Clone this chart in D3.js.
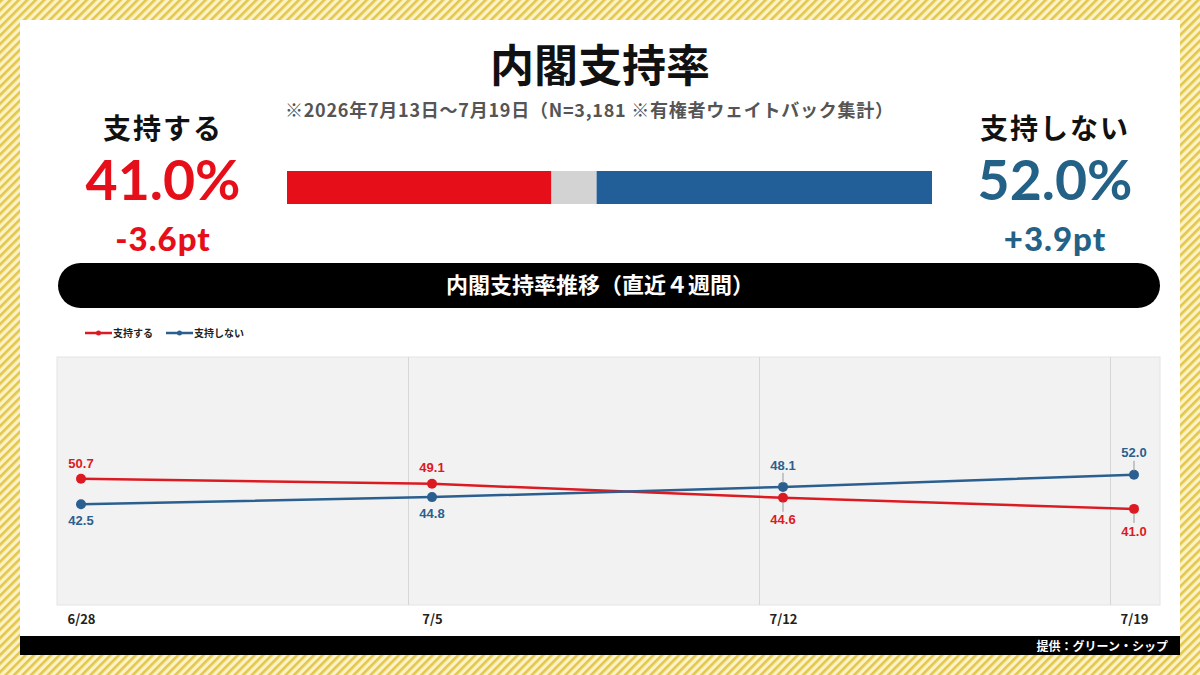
<!DOCTYPE html>
<html>
<head>
<meta charset="utf-8">
<script src="https://cdn.jsdelivr.net/npm/d3@7"></script>
<style>
  body { margin: 0; padding: 0; background: #fff; }
  svg { display: block; }
  .jp { font-family: "Noto Sans CJK JP", "Noto Sans", sans-serif; }
  .num { font-family: Lato, "Noto Sans", sans-serif; }
  .lab { font-family: "Liberation Sans", Arial, sans-serif; }
</style>
</head>
<body>
<div id="chart"></div>
<script>
// --- data ---
var dates = ["6/28", "7/5", "7/12", "7/19"]
var support = [50.7, 49.1, 44.6, 41.0]
var nonsupport = [42.5, 44.8, 48.1, 52.0]
var seriesNames = ["支持する", "支持しない"]
var latestShares = [41.0, 7.0, 52.0]   // support / other / non-support
var latestDiff = ["-3.6pt", "+3.9pt"]
var yDomain = [10, 90]

var W = 1200, H = 675
var RED = "#e60f19", BLUE = "#225f98", NUMBLUE = "#236187"
var LRED = "#dc1a22", LBLUE = "#2b5f8f"

var svg = d3.select("#chart").append("svg")
    .attr("width", W)
    .attr("height", H)

// striped yellow frame
var defs = svg.append("defs")
var pat = defs.append("pattern")
    .attr("id", "stripes")
    .attr("width", 6)
    .attr("height", 6)
    .attr("patternUnits", "userSpaceOnUse")
    .attr("patternTransform", "rotate(45)")
pat.append("rect").attr("width", 6).attr("height", 6).attr("fill", "#fbf2c6")
pat.append("rect").attr("width", 2.6).attr("height", 6).attr("fill", "#e3c64a")

svg.append("rect").attr("width", W).attr("height", H).attr("fill", "url(#stripes)")
svg.append("rect")
    .attr("x", 20).attr("y", 20)
    .attr("width", 1160).attr("height", 616)
    .attr("fill", "#fff")

// footer
svg.append("rect")
    .attr("x", 20).attr("y", 636)
    .attr("width", 1160).attr("height", 19)
    .attr("fill", "#000")
svg.append("text")
    .attr("class", "jp")
    .attr("x", 1168).attr("y", 651)
    .attr("text-anchor", "end")
    .attr("fill", "#fff")
    .attr("font-size", 12)
    .attr("font-weight", 700)
    .text("提供：グリーン・シップ")

// title
svg.append("text")
    .attr("class", "jp")
    .attr("x", 600).attr("y", 82)
    .attr("text-anchor", "middle")
    .attr("font-size", 44)
    .attr("font-weight", 700)
    .attr("fill", "#111")
    .text("内閣支持率")

svg.append("text")
    .attr("class", "jp")
    .attr("x", 589).attr("y", 117)
    .attr("text-anchor", "middle")
    .attr("font-size", 18)
    .attr("font-weight", 700)
    .attr("fill", "#555")
    .attr("textLength", 608)
    .text("※2026年7月13日～7月19日（N=3,181 ※有権者ウェイトバック集計）")

// share bar
var xBar = d3.scaleLinear().domain([0, d3.sum(latestShares)]).range([287, 932])
var cum = 0
var barData = latestShares.map(function(v){ var o = {start: cum, v: v}; cum += v; return o })
svg.append("g").selectAll("rect")
    .data(barData)
    .join("rect")
    .attr("x", function(d){ return xBar(d.start) })
    .attr("width", function(d){ return xBar(d.start + d.v) - xBar(d.start) })
    .attr("y", 171)
    .attr("height", 33)
    .attr("fill", function(d, i){ return [RED, "#d3d3d3", BLUE][i] })

// left / right headline numbers
var sides = [
  {x: 163, name: seriesNames[0], val: latestShares[0], diff: latestDiff[0], color: RED},
  {x: 1055, name: seriesNames[1], val: latestShares[2], diff: latestDiff[1], color: NUMBLUE}
]
sides.forEach(function(s){
  svg.append("text")
      .attr("class", "jp")
      .attr("x", s.x).attr("y", 139)
      .attr("text-anchor", "middle")
      .attr("font-size", 28)
      .attr("font-weight", 700)
      .attr("letter-spacing", 2)
      .attr("fill", "#111")
      .text(s.name)
  svg.append("text")
      .attr("class", "num")
      .attr("x", s.x).attr("y", 200)
      .attr("text-anchor", "middle")
      .attr("font-size", 56)
      .attr("font-weight", 700)
      .attr("fill", s.color)
      .attr("textLength", 155)
      .attr("lengthAdjust", "spacingAndGlyphs")
      .text(d3.format(".1f")(s.val) + "%")
  svg.append("text")
      .attr("class", "num")
      .attr("x", s.x).attr("y", 251)
      .attr("text-anchor", "middle")
      .attr("font-size", 33)
      .attr("font-weight", 900)
      .attr("letter-spacing", 1)
      .attr("fill", s.color)
      .text(s.diff)
})

// section header
svg.append("rect")
    .attr("x", 58).attr("y", 263)
    .attr("width", 1102).attr("height", 45)
    .attr("rx", 22.5)
    .attr("fill", "#000")
svg.append("text")
    .attr("class", "jp")
    .attr("x", 600).attr("y", 293)
    .attr("text-anchor", "middle")
    .attr("font-size", 22)
    .attr("font-weight", 700)
    .attr("fill", "#fff")
    .text("内閣支持率推移（直近４週間）")

// legend
var legend = svg.append("g")
var legendX = [85, 166]
;[LRED, LBLUE].forEach(function(c, i){
  var g = legend.append("g").attr("transform", "translate(" + legendX[i] + ",333)")
  g.append("line").attr("x1", 0).attr("x2", 27).attr("stroke", c).attr("stroke-width", 2.5)
  g.append("circle").attr("cx", 13.5).attr("r", 2.5).attr("fill", c)
  g.append("text")
      .attr("class", "jp")
      .attr("x", 28).attr("y", 4)
      .attr("font-size", 10)
      .attr("font-weight", 700)
      .attr("fill", "#222")
      .text(seriesNames[i])
})

// line chart
var x = d3.scalePoint().domain(dates).range([81, 1134])
var y = d3.scaleLinear().domain(yDomain).range([605, 357])

var plot = svg.append("g")
plot.append("rect")
    .attr("x", x(dates[0]) - 24)
    .attr("y", y(yDomain[1]))
    .attr("width", x(dates[dates.length - 1]) + 26 - (x(dates[0]) - 24))
    .attr("height", y(yDomain[0]) - y(yDomain[1]))
    .attr("fill", "#f2f2f2")
    .attr("stroke", "#e4e4e4")

plot.selectAll("line.grid")
    .data(dates.slice(1))
    .join("line")
    .attr("class", "grid")
    .attr("x1", function(d){ return x(d) - 24 + 0.5 })
    .attr("x2", function(d){ return x(d) - 24 + 0.5 })
    .attr("y1", y(yDomain[1]))
    .attr("y2", y(yDomain[0]))
    .attr("stroke", "#d6d6d6")

// x axis labels
var xAxis = d3.axisBottom(x).tickSize(0).tickPadding(10)
var ax = svg.append("g")
    .attr("transform", "translate(0," + y(yDomain[0]) + ")")
    .call(xAxis)
ax.select(".domain").remove()
ax.selectAll("text")
    .attr("class", "jp")
    .attr("font-size", 13)
    .attr("font-weight", 700)
    .attr("fill", "#222")

var series = [
  {values: support, color: LRED},
  {values: nonsupport, color: LBLUE}
]
var line = d3.line()
    .x(function(d, i){ return x(dates[i]) })
    .y(function(d){ return y(d) })

series.forEach(function(s, si){
  var other = series[1 - si].values
  plot.append("path")
      .attr("d", line(s.values))
      .attr("fill", "none")
      .attr("stroke", s.color)
      .attr("stroke-width", 2.5)
  plot.selectAll(null)
      .data(s.values)
      .join("circle")
      .attr("cx", function(d, i){ return x(dates[i]) })
      .attr("cy", function(d){ return y(d) })
      .attr("r", 5)
      .attr("fill", s.color)

  s.values.forEach(function(v, i){
    var above = v >= other[i]
    var dir = above ? -1 : 1
    var off = i < 2 ? 16 : 22
    var cx = x(dates[i]), cy = y(v)
    if (i >= 2) {
      plot.append("line")
          .attr("x1", cx).attr("x2", cx)
          .attr("y1", cy + dir * 4)
          .attr("y2", cy + dir * (off - 8))
          .attr("stroke", "#999")
          .attr("stroke-width", 1)
    }
    plot.append("text")
        .attr("class", "lab")
        .attr("x", cx)
        .attr("y", cy + dir * off)
        .attr("dy", "0.36em")
        .attr("text-anchor", "middle")
        .attr("font-size", 13)
        .attr("font-weight", 700)
        .attr("fill", s.color)
        .text(d3.format(".1f")(v))
  })
})
</script>
</body>
</html>
